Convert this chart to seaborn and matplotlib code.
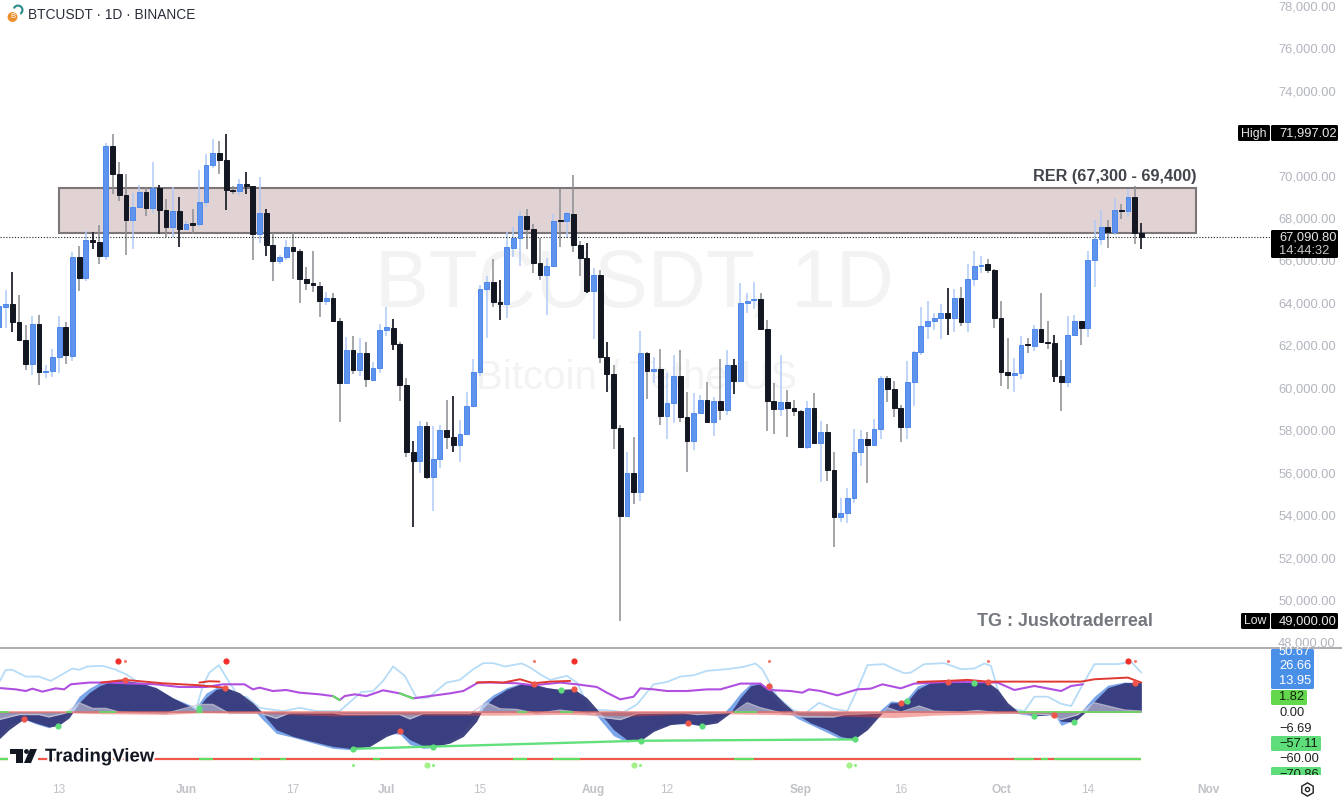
import matplotlib
matplotlib.use('Agg')
import matplotlib.dates as mdates
import matplotlib.pyplot as plt
import matplotlib.patheffects as pe
from matplotlib.patches import Circle, FancyBboxPatch, Polygon, Rectangle, Wedge
import numpy as np
import pandas as pd
import seaborn as sns

# daily candles, 4 May to 22 Oct 2024
opens = [62850, 63820, 63960, 63110, 62250, 61120, 63000, 60740, 60770, 61430, 62880, 61510, 66140, 65170, 66960, 66870, 66210, 71410, 70090, 69100, 67920, 68500, 69240, 68450, 69410, 68360, 67590, 68310,
         67480, 67750, 67700, 68770, 70490, 71060, 70750, 69320, 69250, 69600, 69500, 67260, 68220, 66710, 65970, 66180, 66620, 66460, 65120, 64920, 64810, 64090, 64210, 63160, 60240, 61760, 60820, 61650, 60380, 60930,
         62700, 62830, 62080, 60140, 56990, 56560, 58180, 55790, 56660, 57990, 57660, 57290, 57840, 59150, 60740, 64670, 64980, 64040, 63930, 66600, 67070, 68110, 67480, 65880, 65310, 65740, 67900, 67860, 68200, 66740, 66130,
         64570, 65300, 61430, 60650, 58090, 53940, 55970, 55070, 61640, 60790, 60880, 58650, 59300, 60540, 58620, 57490, 58810, 59440, 58370, 59390, 58950, 61070, 60320, 63980, 64120, 64180, 62770, 59370, 58980, 59310, 59060, 58920,
         57220, 59060, 57410, 57900, 56120, 53890, 54110, 54790, 56970, 57570, 57290, 58070, 60440, 59920, 59060, 58170, 60250, 61700, 62910, 63130, 63290, 63510, 63290, 64210, 63080, 65110, 65720, 65810, 65550,
         63270, 60740, 60600, 60710, 62080, 61980, 62770, 62170, 62110, 60570, 60270, 62480, 63160, 62830, 66020, 67020, 67560, 67350, 68390, 68340, 68970, 67290]
highs = [64130, 64610, 65450, 64390, 62960, 63380, 63430, 61070, 61810, 63400, 63080, 66410, 66690, 67400, 67350, 67650, 71520, 71940, 70620, 70060, 69190, 69550, 69470, 70620, 69540, 68890, 69470, 69000,
         67860, 68420, 70260, 71010, 71720, 71640, 71960, 69520, 69820, 70150, 69510, 69950, 68410, 67310, 66250, 66960, 67280, 66540, 65670, 66440, 65000, 64510, 64480, 63300, 62370, 62440, 62360, 62170, 61200, 63000,
         63820, 63240, 62170, 60440, 57510, 58430, 58400, 58200, 58260, 59420, 59590, 58480, 59810, 61370, 64840, 65260, 66070, 65080, 67320, 67560, 68310, 68420, 67700, 67040, 66130, 68170, 69350, 68280, 70040, 66930, 66800,
         65630, 65550, 62140, 61070, 58240, 56990, 57690, 62690, 61700, 61430, 61810, 60680, 61530, 61760, 59810, 59770, 59660, 60250, 59550, 61350, 61760, 61370, 64920, 64450, 64970, 64450, 63180, 60210, 61540, 59890, 59420,
         58950, 59390, 59770, 58450, 58280, 56960, 54820, 55260, 58040, 58010, 57930, 58510, 60570, 60550, 60330, 59190, 61280, 61730, 63820, 64100, 63510, 63930, 64700, 64640, 64760, 65810, 66460, 66210, 66050, 65580,
         64090, 62360, 61420, 62440, 62330, 62940, 64450, 63140, 62500, 61290, 63380, 63430, 63160, 66460, 67900, 68370, 67900, 68960, 68660, 69350, 69510, 67750]
lows = [62720, 62800, 62640, 62220, 60840, 60600, 60130, 60440, 60520, 60710, 61100, 61270, 64540, 65040, 66550, 65830, 66000, 69130, 68800, 66270, 66550, 68450, 68080, 68220, 67240, 67090, 67090, 66630,
        67430, 67230, 67590, 68530, 70340, 70090, 68370, 69130, 69100, 69130, 66020, 66840, 66210, 65040, 65830, 66020, 65110, 64010, 64600, 64510, 63350, 63900, 63140, 58370, 60240, 60660, 60570, 60020, 60360, 60680,
        62450, 61780, 59360, 56750, 53420, 55970, 55680, 54210, 56230, 57110, 56990, 56480, 57760, 59150, 60570, 62330, 63820, 63190, 63270, 66180, 65740, 66520, 65390, 65080, 63410, 65700, 66620, 67040, 66380, 65260, 64480,
        62280, 61180, 59810, 57100, 49000, 53910, 54510, 54680, 59480, 60210, 58240, 57600, 58350, 58400, 56040, 57070, 58750, 58370, 57740, 58480, 58710, 59690, 60320, 63510, 63730, 62750, 57980, 57800, 58680, 57660, 58680,
        57180, 57100, 57380, 55570, 55600, 52510, 53670, 53610, 54550, 56330, 55490, 57250, 57600, 59340, 58640, 57430, 57570, 59140, 61530, 62310, 62720, 62310, 62500, 62640, 62910, 62640, 64790, 65390, 65390, 62810,
        60100, 59940, 59800, 60400, 61640, 61750, 62090, 61810, 60270, 58900, 60050, 62450, 62000, 62410, 64760, 66710, 66600, 67180, 67970, 68060, 66790, 66520]
closes = [63850, 63960, 63110, 62250, 61120, 63000, 60740, 60800, 61430, 62880, 61530, 66140, 65170, 66960, 66880, 66210, 71410, 70090, 69100, 67920, 68500, 69240, 68450, 69410, 68360, 67590, 68330, 67500,
          67700, 67680, 68770, 70490, 71060, 70750, 69300, 69250, 69580, 69510, 67260, 68220, 66710, 65970, 66180, 66620, 66460, 65120, 64930, 64820, 64090, 64210, 63160, 60240, 61760, 60840, 61650, 60400, 60930, 62700,
          62850, 62080, 60140, 56990, 56560, 58180, 55790, 56660, 57990, 57660, 57290, 57840, 59150, 60760, 64670, 64980, 64040, 63930, 66620, 67070, 68110, 67480, 65880, 65310, 65740, 67860, 67840, 68220, 66740, 66130, 64570,
          65300, 61430, 60650, 58090, 53960, 55970, 55070, 61640, 60790, 60870, 58650, 59300, 60540, 58620, 57490, 58810, 59440, 58370, 59390, 58970, 61090, 60320, 63980, 64100, 64180, 62770, 59370, 58980, 59310, 59060, 58920, 57220,
          59060, 57410, 57900, 56120, 53890, 54110, 54800, 56970, 57570, 57290, 58070, 60440, 59920, 59060, 58170, 60250, 61700, 62910, 63130, 63290, 63510, 63290, 64210, 63080, 65110, 65720, 65800, 65550, 63270,
          60740, 60600, 60710, 62030, 62030, 62770, 62150, 62110, 60570, 60270, 62480, 63160, 62830, 66020, 67020, 67560, 67350, 68370, 68340, 68970, 67290, 67090]
dark_wick_dates = ['2024-05-06', '2024-05-18', '2024-05-28', '2024-05-31', '2024-06-07', '2024-06-10', '2024-06-13',
                   '2024-07-02', '2024-07-05', '2024-07-11', '2024-07-18', '2024-07-31', '2024-08-03',
                   '2024-08-22', '2024-09-23', '2024-10-09', '2024-10-22']
price_ticks = list(range(48000, 80000, 2000))
time_ticks = ['2024-05-13', '2024-06-01', '2024-06-17', '2024-07-01', '2024-07-15', '2024-08-01', '2024-08-12',
              '2024-09-01', '2024-09-16', '2024-10-01', '2024-10-14', '2024-11-01']
time_labels = ['13', 'Jun', '17', 'Jul', '15', 'Aug', '12', 'Sep', '16', 'Oct', '14', 'Nov']

# indicator pane, x is days since 4 May
wave_days = [0, 1.5, 3.75, 5.5, 7.5, 8.9, 10.5, 12, 13.5, 15, 17, 19, 21, 23.5, 26, 29.5, 31, 32.5, 34, 36, 38, 39.5, 40, 41.5, 44, 46.5, 50, 53, 55.5, 58, 60, 61.5, 63.5, 65, 67.5,
             69.5, 71.5, 72.5, 74, 76, 78, 80, 82, 84, 86, 88, 90, 92, 94, 96, 98, 100.5, 103, 105, 107.5, 109.5, 111, 112.5, 114, 115.5, 117.5, 119.5, 121.5, 124, 126, 128, 130, 132, 133.5,
             135, 136, 137.5, 139.5, 142, 146, 148, 149.5, 151, 152.5, 155, 158, 159, 161, 162.5, 164, 166, 168.5, 171]
wave_vals = [-34.3, -22.3, -8.7, -13.8, -18.9, -17.2, -7.4, 11.7, 24.5, 33, 39.4, 39.4, 37.3, 30.9, 18.1, 3.2, 18.1, 28.7, 30.9, 24.5, 11.7, -1.1, -7.4, -22.3, -30.9, -36.4, -43.6, -46.6, -43.6, -30.9, -24.5, -35.1, -42.8, -44, -39.4,
             -30.9, -11.7, 5.3, 18.1, 28.7, 35.1, 35.1, 30.9, 28.7, 29.6, 18.1, -1.1, -22.3, -35.1, -36.4, -24.5, -16, -13.8, -17.2, -13.8, -1.1, 18.1, 33, 36, 28.7, 11.7, -3.2, -13.8, -22.3, -30.9, -34.7, -22.3, -3.2, 11.7,
             11.7, 13.8, 28.7, 37.3, 38.1, 37.3, 38.1, 28.7, 11.7, 1.1, -4.5, -3.2, -11.7, -12.5, -1.1, 13.8, 30.9, 37.3, 37.3]
wave_lead = [-30, -16, -9, -15, -20, -14, 0, 20, 30, 37, 40, 40, 37, 31, 18, 6, 24, 31, 31, 20, 4, -10, -14, -27, -32, -38, -46, -48, -42, -27, -28, -41, -46, -45, -36,
             -24, -2, 12, 22, 31, 36, 35, 31, 28, 28, 12, -10, -30, -38, -34, -21, -15, -15, -17, -10, 8, 24, 36, 37, 24, 4, -8, -16, -26, -34, -35, -16, 3, 14,
             13, 18, 33, 38, 38, 37, 37, 22, 6, -2, -5, -3, -17, -10, 6, 20, 34, 38, 37]
k_days = [0, 1, 2, 4, 6, 7.75, 9.5, 11, 12, 13.25, 15.5, 17.25, 19, 20.5, 23.5, 26, 29.5, 30.5, 31.5, 32.9, 34.5, 36, 37, 39, 42.5, 45, 47.5, 51, 53, 54.25, 56, 57.5, 59, 60.75, 62.5, 64.25, 67,
          69, 71, 72.5, 74, 75.75, 78.25, 79.5, 81, 82.5, 85, 86.5, 88.5, 91.5, 93.5, 95.5, 98, 100, 102, 104, 106, 109, 111.5, 113.25, 114.25, 116.5, 118.75, 120.5, 122.75, 125, 127, 128.5, 130, 132.5,
          133.5, 135.5, 136.5, 138.5, 141.5, 144, 146, 147.5, 148.5, 149.5, 151, 153.5, 155, 157, 159, 160.5, 162.25, 164, 167.5, 169.5, 171]
k_vals = [37.3, 53.4, 53.4, 44.9, 44.9, 39.4, 47.9, 55.1, 53.4, 57.7, 58.5, 54.3, 47.9, 39.4, 28.7, 3.2, 2.4, 33, 50, 59.4, 37.3, 18.1, 19.4, 5.3, 1.1, 5.3, 1.1, 1.1, 16, 25.3, 26.6, 39.4, 57.7, 45.8, 18.1, 18.1, 37.3,
          40.7, 54.3, 61.9, 61.9, 57.7, 61.5, 56.4, 47.9, 40.7, 45.8, 37.3, 3.2, 1.9, -0.2, 9.6, 35.1, 38.1, 44.9, 46.6, 52.2, 54.3, 57.3, 61.5, 54.3, 19.4, 3.2, -3.2, 11.7, 4, 1.1, 28.7, 59.4, 60.7,
          56.4, 49.2, 50, 60.7, 61.9, 54.3, 55.1, 61.5, 58.5, 28.7, 5.3, 1.1, 19.4, 19.4, 10.4, 7.5, 35.1, 60.7, 60.7, 63.6, 50]
purple_days = [0, 2.5, 4, 5, 6.5, 8.5, 9.75, 10.75, 13.5, 16.5, 19, 23.5, 27, 31, 33.5, 36.75, 38, 39, 41, 43, 45, 48, 50, 51, 51.75, 53.25, 55, 57.5, 60, 62, 64.5, 67.5,
               69.5, 71.75, 74, 77.5, 80, 84, 86.5, 89.5, 91, 93, 95, 96, 98, 100, 103, 106, 108, 111, 114, 115.25, 118.5, 120.25, 121.25, 123, 125.5, 128.5, 130.5, 132.25,
               135, 137, 142, 145.5, 149.5, 152, 155, 159, 160.5, 162.25]
purple_vals = [30.4, 28.7, 26.6, 29.6, 25.8, 30, 28.7, 35.1, 37.3, 37.3, 36.4, 35.1, 31.7, 31.7, 35.1, 35.1, 28.7, 30.9, 26.6, 27.9, 24.5, 22.4, 20.2, 15.1, 20.2, 22.4, 20.2, 27.5, 23.6, 17.3, 20.2, 23.6,
               26.6, 37.3, 37.3, 36.4, 33.9, 37.3, 35.1, 31.7, 24.5, 16, 19.4, 30, 28.7, 26.6, 26.6, 28.7, 28.7, 36, 36, 27.9, 26.6, 24.5, 28.7, 26.6, 21.1, 28.7, 29.6, 35.1,
               30, 36, 38.1, 38.1, 37.3, 27.9, 33, 26.6, 33, 35.1]
mfi_days = [0, 3, 6, 7.5, 10, 12, 14, 16, 18, 25, 30, 32, 34.5, 39, 41.5, 43.5, 50, 51.5, 60, 61.5, 63.5, 67.5,
            70.5, 73, 75, 77.5, 80.5, 84, 87.5, 91, 93, 95.5, 102.5, 104.5, 110, 112, 114, 117.5, 120.5, 125, 126.5, 132.5, 133,
            135, 137.75, 140, 144, 146.5, 149.5, 153.5, 157, 159, 161.5, 164, 166, 168.5, 171]
mfi_vals = [-9.6, -3.2, -3.2, -6.2, -1.1, 11.7, 4.5, 4.5, -0.2, -1.9, 9.6, 9.6, -1.9, -1.1, -7.9, -1.1, -1.1, -3.2, -3.2, -8.7, -1.9, -1.9,
            -1.9, 11.7, 4, 3.2, -1.9, 2.4, -1.1, -7.4, -9.6, -1.9, -1.1, -3.2, -0.2, 11.7, 5.3, -1.9, -6.2, -6.2, -3.2, -1.1, 5.3,
            -0.2, 7.5, 1.1, -0.2, 1.9, -1.1, -1.9, -3.2, -9.6, -3.2, 11.7, 7.5, 2.4, 1.1]
red_days = [0, 10, 14, 25, 30, 40, 50, 60, 65, 67, 75, 85, 95, 105, 115, 125, 134, 140, 150, 160, 171]
red_vals = [-1, -1, -2, -3, -1, -2, -5, -3, -4, -4, -4, -3, -5, -2, -3, -5, -7, -4, -2, -1, 0]
red_div = [([15.25, 18.9, 24.5, 30, 33.5], [37.3, 40.7, 36.4, 33.9, 30.9]),
           ([30, 31.5, 33], [37.3, 39, 38.5]),
           ([71.5, 73.5, 75.5, 78, 80, 82.5, 85.5], [37.3, 38.1, 37.3, 41.5, 36.4, 38.5, 39.4]),
           ([137.5, 142, 145, 148, 162, 164, 169, 171], [38.1, 39.4, 40.7, 38.5, 38.5, 41.5, 43.6, 37.3])]
green_div_days = [53, 96, 128.1]
green_div_vals = [-46.6, -36.4, -34.7]
purple_green = [(50, 51), (60, 62)]
zero_green = [(0, 1.5), (10, 11), (15, 17.5), (29.5, 30.5), (77.5, 79), (84, 86), (110, 113.5), (152.5, 171)]
bottom_green = [(0, 1.5), (30, 32), (38, 39), (42, 43), (56, 57), (77, 79), (83, 87), (110, 113), (152, 155), (156, 157), (158, 171)]
red_cross_days = [3.75, 18.9, 33.9, 60, 80.1, 86.1, 103.2, 115.2, 135, 142, 148, 158, 170.1]
red_cross_vals = [-8.7, 40.2, 30.9, -24.5, 35.1, 29.6, -13.8, 33, 11.7, 38.1, 38.5, -3.6, 37.3]
green_cross_days = [8.9, 29.9, 53, 65, 84.2, 96.1, 105.2, 128.2, 136, 146, 155, 161]
green_cross_vals = [-17.2, 5.3, -46.6, -44, 27.5, -36.4, -17.2, -34.7, 13.8, 37.3, -4.5, -12.5]
top_big_days = [17.8, 34, 86.1, 169]
top_small_days = [18.9, 80.1, 115.2, 142, 148, 170]
low_big_days = [64, 95, 127.2]
low_small_days = [53, 65, 96, 128.2]

UP = '#5f94ee'
UP_EDGE = '#4f88ea'
DOWN = '#131722'
W, H = 1342, 799
FIRST = pd.Timestamp('2024-05-04')

sns.set_theme(style='white')
plt.rcParams['font.family'] = ['Liberation Sans', 'DejaVu Sans']

fig = plt.figure(figsize=(W / 100, H / 100), dpi=100, facecolor='white')
ax = fig.add_axes([0, 1 - 648 / H, 1, 648 / H])
ax2 = fig.add_axes([0, 1 - 778 / H, 1, 130 / H], sharex=ax)
over = fig.add_axes([0, 0, 1, 1], zorder=10)
over.set_xlim(0, W)
over.set_ylim(H, 0)
over.axis('off')
over.patch.set_alpha(0)

# candles
df = pd.DataFrame({'date': pd.date_range(FIRST, periods=len(opens)), 'open': opens, 'high': highs, 'low': lows, 'close': closes})
df['x'] = mdates.date2num(df.date)
df['up'] = df.close >= df.open
df['dark'] = df.date.isin(pd.to_datetime(dark_wick_dates))
up, down = df[df.up], df[~df.up]
ax.vlines(up.x, up.low, up.high, color='#afcaf7', lw=1.1, zorder=3)
ax.vlines(down.x, down.low, down.high, color='#8b8d92', lw=1.1, zorder=3)
dark = df[df.dark]
ax.vlines(dark.x, dark.low, dark.high, color=DOWN, lw=1.1, zorder=3)
ax.bar(up.x, (up.close - up.open).abs(), bottom=up.open, width=0.72, color=UP, edgecolor=UP_EDGE, lw=0.7, zorder=4)
ax.bar(down.x, (down.open - down.close).abs(), bottom=down.close, width=0.72, color=DOWN, edgecolor=DOWN, lw=0.7, zorder=4)

x0 = mdates.date2num(FIRST)
ax.add_patch(Rectangle((x0 + 9, 67300), 170.2, 2100, facecolor='#e1d2d3', edgecolor='#7d7678', lw=1.5, zorder=2))
ax.axhline(67090.8, xmax=1270 / W, color='#222222', ls=(0, (1, 1.6)), lw=0.8, zorder=3)
ax.text(x0 + 179.2, 69600, 'RER (67,300 - 69,400)', ha='right', va='bottom', fontsize=11.7, fontweight='bold', color='#42454c', zorder=5)
ax.text(x0 + 172.8, 49000, 'TG : Juskotraderreal', ha='right', va='center', fontsize=12.9, fontweight='bold', color='#74777d', zorder=5)

ax.text(0.4724, 0.560, 'BTCUSDT, 1D', transform=ax.transAxes, ha='center', va='center', fontsize=58, color='#f3f3f4', zorder=0)
ax.text(0.474, 0.4167, 'Bitcoin / TetherUS', transform=ax.transAxes, ha='center', va='center', fontsize=29, color='#f3f3f4', zorder=0)

ax.set_xlim(x0 + 0.15, x0 + 201.05)
ax.set_ylim(47736, 78270)
ax.yaxis.tick_right()
ax.set_yticks(price_ticks)
ax.set_yticklabels([f'{p:,.2f}' for p in price_ticks])
ax.tick_params(axis='y', length=0, pad=-46, labelsize=9.3, labelcolor='#b2b5be')
ax.tick_params(axis='x', bottom=False, labelbottom=False)
sns.despine(ax=ax, left=True, right=True, top=True, bottom=False)
ax.spines['bottom'].set_color('#a8a8ac')
ax.spines['bottom'].set_linewidth(1.3)
ax.patch.set_alpha(0)

# indicator pane
wave_x = x0 + np.array(wave_days)
ax2.fill_between(wave_x, 0, wave_lead, color='#7ba6ea', lw=0, zorder=1)
sns.lineplot(x=x0 + np.array(k_days), y=k_vals, ax=ax2, color='#b6dcf7', lw=1.3, errorbar=None, zorder=2)
ax2.fill_between(wave_x, 0, wave_vals, color='#363a7a', alpha=0.95, lw=0, zorder=3)
mfi_x = x0 + np.array(mfi_days)
ax2.fill_between(mfi_x, 0, mfi_vals, color='white', alpha=0.45, lw=0, zorder=4)
sns.lineplot(x=mfi_x, y=mfi_vals, ax=ax2, color='#c9c6d6', lw=1, alpha=0.8, errorbar=None, zorder=4)
ax2.fill_between(x0 + np.array(red_days), 0, red_vals, color='#e8443a', alpha=0.45, lw=0, zorder=5)
ax2.hlines(0, x0, x0 + 171, color='#ee6c60', lw=1.2, alpha=0.7, zorder=5)
ax2.hlines([0] * len(zero_green), [x0 + a for a, b in zero_green], [x0 + b for a, b in zero_green], color='#62dd62', lw=1.2, zorder=5)

purple_x = x0 + np.array(purple_days)
sns.lineplot(x=purple_x, y=purple_vals, ax=ax2, color='#b04fe0', lw=1.5, errorbar=None, zorder=6)
purple = pd.DataFrame({'x': purple_days, 'y': purple_vals})
for a, b in purple_green:
    seg = purple[(purple.x >= a) & (purple.x <= b)]
    sns.lineplot(x=x0 + seg.x, y=seg.y, ax=ax2, color='#62dd62', lw=1.5, errorbar=None, zorder=6)
for xs, ys in red_div:
    sns.lineplot(x=x0 + np.array(xs), y=ys, ax=ax2, color='#e0392f', lw=1.4, errorbar=None, zorder=7)
sns.lineplot(x=x0 + np.array(green_div_days), y=green_div_vals, ax=ax2, color='#62e07c', lw=1.7, errorbar=None, zorder=7)

ax2.hlines(-60, x0, x0 + 171, color='#f0594a', lw=1.6, zorder=2)
ax2.hlines([-60] * len(bottom_green), [x0 + a for a, b in bottom_green], [x0 + b for a, b in bottom_green], color='#62dd62', lw=1.6, zorder=3)

ax2.scatter(x0 + np.array(red_cross_days), red_cross_vals, s=20, color='#f0554a', lw=0, zorder=8)
ax2.scatter(x0 + np.array(green_cross_days), green_cross_vals, s=20, color='#5fdd7a', lw=0, zorder=8)
ax2.scatter(x0 + np.array(top_big_days), [64] * len(top_big_days), s=20, color='#f0302a', lw=0, zorder=8)
ax2.scatter(x0 + np.array(top_small_days), [64] * len(top_small_days), s=5, color='#f57a70', lw=0, zorder=8)
ax2.scatter(x0 + np.array(low_big_days), [-66.6] * len(low_big_days), s=20, color='#a5f08a', lw=0, zorder=8)
ax2.scatter(x0 + np.array(low_small_days), [-66.6] * len(low_small_days), s=5, color='#90ee80', lw=0, zorder=8)

ax2.set_ylim(-83.6, 81.1)
ax2.set_yticks([])
ax2.set_xlabel('')
ax2.set_ylabel('')
ax2.set_xticks(mdates.date2num(pd.to_datetime(time_ticks)))
ax2.set_xticklabels(time_labels)
ax2.tick_params(axis='x', length=0, pad=4, labelsize=8.6, labelcolor='#c0c2c8', labelbottom=True)
for lab in ax2.get_xticklabels():
    if lab.get_text().isalpha():
        lab.set_fontweight('bold')
sns.despine(ax=ax2, left=True, right=True, top=True, bottom=True)
ax2.patch.set_alpha(0)
ax.set_xlim(x0 + 0.15, x0 + 201.05)


def tag(x1, y1, x2, y2, color):
    over.add_patch(FancyBboxPatch((x1 + 1, y1 + 1), x2 - x1 - 2, y2 - y1 - 2, boxstyle='round,pad=1,rounding_size=1.5', facecolor=color, edgecolor='none', zorder=1))


def label(x, y, s, color, ha='left', size=9.3):
    over.text(x, y, s, color=color, ha=ha, va='center', fontsize=size, zorder=2)


# price tags
tag(1238, 125, 1270, 141, 'black')
tag(1271, 125, 1338, 141, 'black')
label(1254, 133.5, 'High', '#e8e8e8', ha='center', size=8.8)
label(1279, 133.5, '71,997.02', '#e8e8e8')
tag(1271, 230, 1338, 258, 'black')
label(1279, 238, '67,090.80', '#e8e8e8')
label(1279, 251, '14:44:32', '#c8c8c8')
tag(1241, 613, 1270, 629, 'black')
tag(1271, 613, 1338, 629, 'black')
label(1255.5, 621.5, 'Low', '#e8e8e8', ha='center', size=8.8)
label(1279, 621.5, '49,000.00', '#e8e8e8')

# pane tags
tag(1271, 649, 1314, 689, '#4a8fe7')
label(1279, 652, '50.67', 'white')
label(1279, 666, '26.66', 'white')
label(1279, 681, '13.95', 'white')
tag(1271, 690, 1307, 705, '#63d84c')
label(1279, 697.5, '1.82', '#10200c')
label(1279, 713, '0.00', '#222222')
label(1279, 728.5, '\u22126.69', '#222222')
tag(1271, 736, 1321, 751, '#5fdd7b')
label(1279, 744, '\u221257.11', '#10200c')
label(1279, 759.5, '\u221260.00', '#222222')
tag(1271, 767, 1321, 780, '#5fdd7b')
label(1279, 774.5, '\u221270.86', '#10200c')
over.add_patch(Rectangle((1265, 775), 70, 5.5, facecolor='white', edgecolor='none', zorder=3))

# header and icon
over.add_patch(Wedge((18, 10), 5.5, 200, 60, width=2.2, facecolor='#2f8f8b', edgecolor='none', zorder=1))
over.add_patch(Circle((12.5, 17), 5.5, facecolor='#ee8f2e', edgecolor='white', lw=0.8, zorder=2))
over.text(12.5, 17, 'B', color='white', fontsize=5.5, ha='center', va='center', zorder=3)
over.text(28, 15, 'BTCUSDT \u00b7 1D \u00b7 BINANCE', color='#2a2e39', fontsize=9.9, ha='left', va='center')

# TradingView logo
halo = [pe.withStroke(linewidth=3, foreground='white')]
over.add_patch(Rectangle((8, 747), 30, 18, facecolor='white', edgecolor='none', zorder=2))
over.add_patch(Polygon([[10, 749], [23, 749], [23, 763], [16, 763], [16, 754], [10, 754]], facecolor='#131722', edgecolor='none', zorder=3))
over.add_patch(Circle((26.5, 751.5), 2.4, facecolor='#131722', edgecolor='none', zorder=4))
over.add_patch(Polygon([[30, 749], [37, 749], [31, 763], [24, 763]], facecolor='#131722', edgecolor='none', zorder=3))
over.text(45, 757, 'TradingView', color='#131722', fontsize=13.4, fontweight='bold', ha='left', va='center', path_effects=halo, zorder=4)

# settings icon
over.plot([1307], [789], marker='h', ms=9.5, mfc='none', mec='#222222', mew=1)
over.plot([1307], [789], marker='o', ms=3, mfc='none', mec='#222222', mew=1)

fig.savefig('out.png', dpi=100)
